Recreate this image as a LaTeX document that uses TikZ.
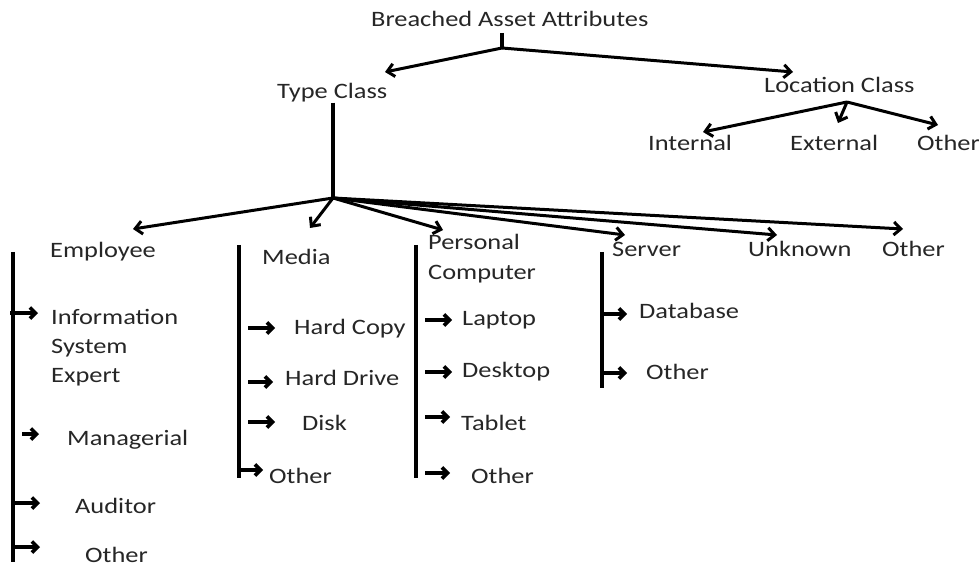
\documentclass[tikz,border=0pt]{standalone}
\usepackage{fontspec}
\setmainfont{Carlito}
\newfontfamily\wfont{Carlito}[FakeStretch=1.2]
\usetikzlibrary{arrows.meta}
\begin{document}
\begin{tikzpicture}[x=1pt,y=-1pt,
  lbl/.style={inner sep=0pt,anchor=base west,font=\wfont\fontsize{22}{29}\selectfont,text=black!85},
  mlbl/.style={lbl,align=left},
  arw/.style={line width=3pt,-{Straight Barb[length=7pt,width=13pt]}},
  carw/.style={line width=3.6pt,-{Straight Barb[length=5.5pt,width=11pt]}},
  bar/.style={line width=4pt},
]
\useasboundingbox (0,0) rectangle (979,569);
% top level
\node[lbl] (title) at (371,27) {Breached Asset Attributes};
\node[lbl] (tc) at (277,99) {Type Class};
\node[lbl] (lc) at (764,93) {Location Class};
\node[lbl] (int) at (648,151) {Internal};
\node[lbl] (ext) at (790,151) {External};
\node[lbl] (lo) at (917,151) {Other};
\coordinate (F0) at (502,48);
\coordinate (tTC) at (385,72);
\coordinate (tLC) at (793,72);
\draw[bar] (F0 |- 0,33) coordinate (s0) -- (F0);
\draw[arw] (F0) -- (tTC);
\draw[arw] (F0) -- (tLC);
\coordinate (F1) at (847,102);
\coordinate (tInt) at (703,132);
\coordinate (tExt) at (838,123);
\coordinate (tLO) at (938,125);
\draw[arw] (F1) -- (tInt);
\draw[arw] (F1) -- (tExt);
\draw[arw] (F1) -- (tLO);
% type class children
\node[lbl] (emp) at (50,258) {Employee};
\node[lbl] (med) at (262,265) {Media};
\node[mlbl] (pc) at (428,279) {Personal\\Computer};
\node[lbl] (srv) at (612,257) {Server};
\node[lbl] (unk) at (748,257) {Unknown};
\node[lbl] (oth) at (882,257) {Other};
\coordinate (F2) at (333,198);
\draw[bar] (F2 |- tc.south) -- (F2);
\coordinate (tEmp) at (133,229);
\coordinate (tMed) at (310,228);
\coordinate (tPC) at (443,230);
\coordinate (tSrv) at (625,235);
\coordinate (tUnk) at (777,235);
\coordinate (tOth) at (903,229);
\foreach \t in {tEmp,tMed,tPC,tSrv,tUnk,tOth} \draw[arw] (F2) -- (\t);
% Employee
\coordinate (eTop) at (13,252); \coordinate (eBot) at (13,562);
\draw[bar] (eTop) -- (eBot);
\node[mlbl] (ise) at (51,382) {Information\\System\\Expert};
\node[lbl] (mgr) at (67,445) {Managerial};
\node[lbl] (aud) at (75,513) {Auditor};
\node[lbl] (eo) at (85,562) {Other};
\coordinate (a1) at (10,313); \draw[carw,shorten >=13pt] (a1) -- (a1 -| ise.west);
\coordinate (a2) at (22,434); \draw[carw,shorten >=28pt] (a2) -- (a2 -| mgr.west);
\coordinate (a3) at (13,503); \draw[carw,shorten >=35pt] (a3) -- (a3 -| aud.west);
\coordinate (a4) at (12,547); \draw[carw,shorten >=45pt] (a4) -- (a4 -| eo.west);
% Media
\coordinate (mTop) at (239,245); \coordinate (mBot) at (239,478);
\draw[bar] (mTop) -- (mBot);
\node[lbl] (hc) at (294,334) {Hard Copy};
\node[lbl] (hd) at (285,385) {Hard Drive};
\node[lbl] (dk) at (302,430) {Disk};
\node[lbl] (mo) at (269,483) {Other};
\coordinate (b1) at (248,328); \draw[carw,shorten >=19pt] (b1) -- (b1 -| hc.west);
\coordinate (b2) at (248,382); \draw[carw,shorten >=12pt] (b2) -- (b2 -| hd.west);
\coordinate (b3) at (248,422); \draw[carw,shorten >=27pt] (b3) -- (b3 -| dk.west);
\coordinate (b4) at (239,470); \draw[carw,shorten >=6pt] (b4) -- (b4 -| mo.west);
% Personal Computer
\coordinate (pTop) at (416,245); \coordinate (pBot) at (416,478);
\draw[bar] (pTop) -- (pBot);
\node[lbl] (lap) at (462,325) {Laptop};
\node[lbl] (dsk) at (462,377) {Desktop};
\node[lbl] (tab) at (461,430) {Tablet};
\node[lbl] (po) at (471,483) {Other};
\coordinate (c1) at (425,320); \draw[carw,shorten >=10pt] (c1) -- (c1 -| lap.west);
\coordinate (c2) at (425,372); \draw[carw,shorten >=10pt] (c2) -- (c2 -| dsk.west);
\coordinate (c3) at (425,417); \draw[carw,shorten >=11pt] (c3) -- (c3 -| tab.west);
\coordinate (c4) at (425,473); \draw[carw,shorten >=21pt] (c4) -- (c4 -| po.west);
% Server
\coordinate (sTop) at (602,252); \coordinate (sBot) at (602,388);
\draw[bar] (sTop) -- (sBot);
\node[lbl] (db) at (639,318) {Database};
\node[lbl] (so) at (646,379) {Other};
\coordinate (d1) at (602,314); \draw[carw,shorten >=12pt] (d1) -- (d1 -| db.west);
\coordinate (d2) at (602,373); \draw[carw,shorten >=19pt] (d2) -- (d2 -| so.west);
\end{tikzpicture}
\end{document}
